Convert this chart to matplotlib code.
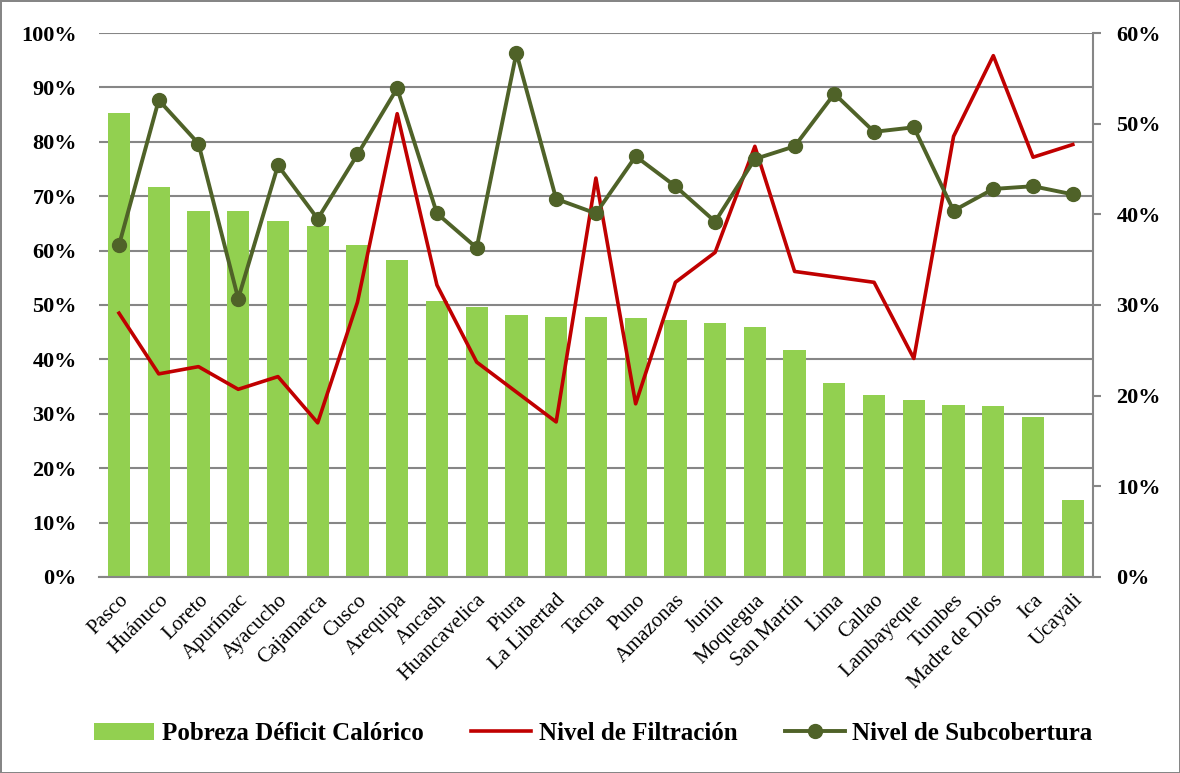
import numpy as np
import matplotlib.pyplot as plt
from matplotlib.ticker import PercentFormatter

plt.rcParams['font.family'] = ['Liberation Serif', 'DejaVu Serif']

regiones = ["Pasco", "Huánuco", "Loreto", "Apurímac", "Ayacucho", "Cajamarca",
            "Cusco", "Arequipa", "Ancash", "Huancavelica", "Piura", "La Libertad",
            "Tacna", "Puno", "Amazonas", "Junín", "Moquegua", "San Martín", "Lima",
            "Callao", "Lambayeque", "Tumbes", "Madre de Dios", "Ica", "Ucayali"]

# pobreza por deficit calorico (eje izquierdo, %)
pobreza = [85.3, 71.6, 67.3, 67.2, 65.4, 64.5, 61.0, 58.3, 50.7, 49.6, 48.2, 47.7,
           47.7, 47.6, 47.2, 46.7, 45.9, 41.7, 35.6, 33.5, 32.5, 31.7, 31.4, 29.4, 14.2]

# niveles de filtracion y subcobertura (eje derecho, %)
filtracion = [29.1, 22.4, 23.2, 20.7, 22.1, 17.0, 30.3, 51.1, 32.2, 23.7, 20.4, 17.1,
              44.0, 19.1, 32.5, 35.8, 47.5, 33.7, 33.1, 32.5, 24.1, 48.6, 57.5, 46.3, 47.7]
subcobertura = [36.6, 52.6, 47.8, 30.7, 45.4, 39.5, 46.6, 53.9, 40.1, 36.3, 57.8, 41.7,
                40.1, 46.4, 43.1, 39.2, 46.1, 47.5, 53.3, 49.1, 49.6, 40.4, 42.8, 43.1, 42.2]

grid_col = '#868686'
x = np.arange(len(regiones))

fig = plt.figure(figsize=(11.8, 7.73), dpi=100)
fig.patch.set_edgecolor(grid_col)
fig.patch.set_linewidth(2)
ax = fig.add_axes([0.084, 0.2536, 0.842, 0.7037])

bars = ax.bar(x, pobreza, width=0.56, color='#92D050', zorder=2)
ax.set_ylim(0, 100)
ax.set_xlim(-0.5, len(regiones) - 0.5)
ax.set_yticks(np.arange(0, 101, 10))
ax.yaxis.set_major_formatter(PercentFormatter(decimals=0))
ax.grid(axis='y', color=grid_col, linewidth=1.5, zorder=0)
ax.set_axisbelow(True)
for s in ['top', 'left', 'right']:
    ax.spines[s].set_visible(False)
ax.spines['bottom'].set_color(grid_col)
ax.spines['bottom'].set_linewidth(1.5)
ax.tick_params(axis='y', length=0, pad=16, labelsize=16)
ax.tick_params(axis='x', length=0, pad=10)
ax.set_xticks(x)
ax.set_xticklabels(regiones, rotation=45, ha='right', rotation_mode='anchor', fontsize=15)
for t in ax.get_yticklabels():
    t.set_fontweight('bold')

ax2 = ax.twinx()
l1, = ax2.plot(x, filtracion, color='#C00000', linewidth=2.6, zorder=3)
l2, = ax2.plot(x, subcobertura, color='#4F6228', linewidth=2.8, marker='o',
               markersize=10, zorder=4)
ax2.set_ylim(0, 60)
ax2.set_yticks(np.arange(0, 61, 10))
ax2.yaxis.set_major_formatter(PercentFormatter(decimals=0))
for s in ['top', 'left', 'bottom']:
    ax2.spines[s].set_visible(False)
ax2.spines['right'].set_color(grid_col)
ax2.spines['right'].set_linewidth(1.5)
ax2.tick_params(axis='y', length=6, width=1.5, color=grid_col, direction='out',
                pad=11, labelsize=16)
for t in ax2.get_yticklabels():
    t.set_fontweight('bold')

fig.legend([bars, l1, l2],
           ["Pobreza Déficit Calórico", "Nivel de Filtración", "Nivel de Subcobertura"],
           loc='center', bbox_to_anchor=(0.503, 0.051), ncol=3, frameon=False,
           prop={'size': 18, 'weight': 'bold'}, handlelength=2.4, columnspacing=1.9,
           handletextpad=0.3)

fig.savefig('out.png', dpi=100)
